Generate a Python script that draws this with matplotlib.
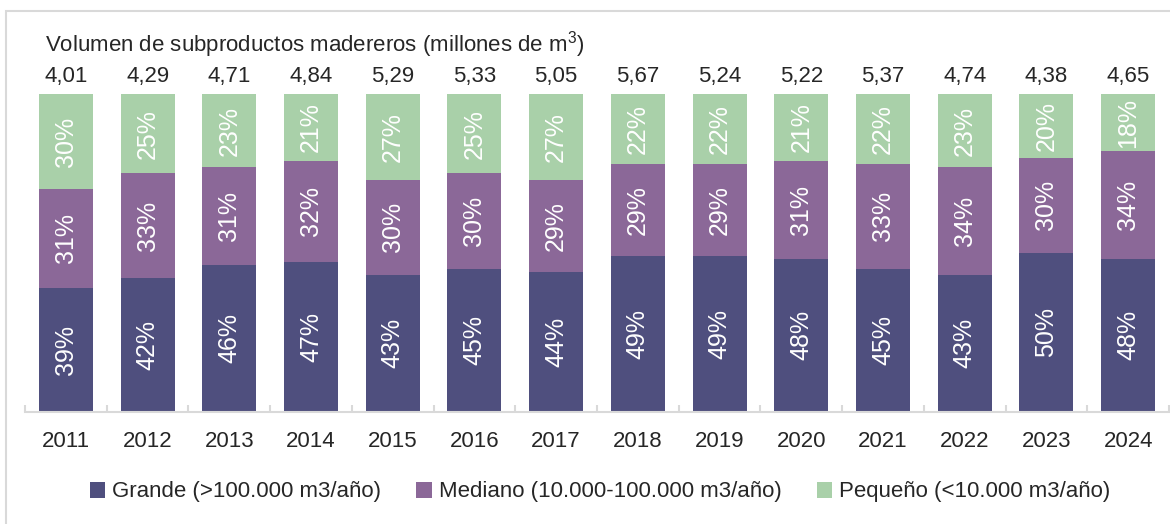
import matplotlib.pyplot as plt
from matplotlib.patches import Rectangle
import numpy as np

plt.rcParams['font.family'] = ['Liberation Sans', 'DejaVu Sans']
plt.rcParams['mathtext.fontset'] = 'custom'
plt.rcParams['mathtext.rm'] = 'Liberation Sans'

years = ['2011', '2012', '2013', '2014', '2015', '2016', '2017',
         '2018', '2019', '2020', '2021', '2022', '2023', '2024']
totals = ['4,01', '4,29', '4,71', '4,84', '5,29', '5,33', '5,05',
          '5,67', '5,24', '5,22', '5,37', '4,74', '4,38', '4,65']
grande = [39, 42, 46, 47, 43, 45, 44, 49, 49, 48, 45, 43, 50, 48]
mediano = [31, 33, 31, 32, 30, 30, 29, 29, 29, 31, 33, 34, 30, 34]
pequeno = [30, 25, 23, 21, 27, 25, 27, 22, 22, 21, 22, 23, 20, 18]

series = [
    ('Grande (>100.000 m3/año)', grande, '#4f4f7e'),
    ('Mediano (10.000-100.000 m3/año)', mediano, '#8b6898'),
    ('Pequeño (<10.000 m3/año)', pequeno, '#a9d0a9'),
]

W, H = 1170, 524
fig = plt.figure(figsize=(W / 100, H / 100), dpi=100)
ax = fig.add_axes([25 / W, 1 - 411.5 / H, (1169 - 25) / W, (411.5 - 94) / H])

x = np.arange(len(years))
bottom = np.zeros(len(years))
for name, vals, color in series:
    vals = np.array(vals, dtype=float)
    ax.bar(x, vals, width=0.66, bottom=bottom, color=color, label=name)
    for xi, b, v in zip(x, bottom, vals):
        ax.text(xi, b + v / 2, f'{int(v)}%', rotation=90, ha='center',
                va='center', color='white', fontsize=18)
    bottom += vals

for xi, t, top in zip(x, totals, bottom):
    ax.annotate(t, (xi, top), xytext=(0, 5), textcoords='offset points',
                ha='center', va='bottom', fontsize=16, color='#262626')

ax.set_xlim(-0.5, len(years) - 0.5)
ax.set_ylim(0, 100)
ax.set_yticks([])
for s in ['top', 'right', 'left']:
    ax.spines[s].set_visible(False)
ax.spines['bottom'].set_color('#d9d9d9')
ax.spines['bottom'].set_linewidth(1.5)
ax.set_xticks(x)
ax.set_xticklabels(years, fontsize=16, color='#262626')
ax.tick_params(axis='x', length=0, pad=14)
ax.set_xticks(np.arange(len(years) + 1) - 0.5, minor=True)
ax.tick_params(axis='x', which='minor', direction='in', length=5,
               width=1.5, color='#d9d9d9')

fig.text(45 / W, 1 - 45 / H, 'Volumen de subproductos madereros (millones de m$^3$)',
         ha='left', va='center', fontsize=16, color='#262626')

fig.legend(loc='center', bbox_to_anchor=(600 / W, 1 - 492 / H), ncol=3,
           frameon=False, fontsize=16, handlelength=0.7, handleheight=0.7,
           handletextpad=0.3, columnspacing=1.6, labelcolor='#262626')

fig.patches.append(Rectangle((6 / W, -0.2), 1.2, 1.2 - 11 / H, transform=fig.transFigure,
                             fill=False, edgecolor='#d9d9d9', linewidth=1.5))

fig.savefig('out.png', dpi=100)
